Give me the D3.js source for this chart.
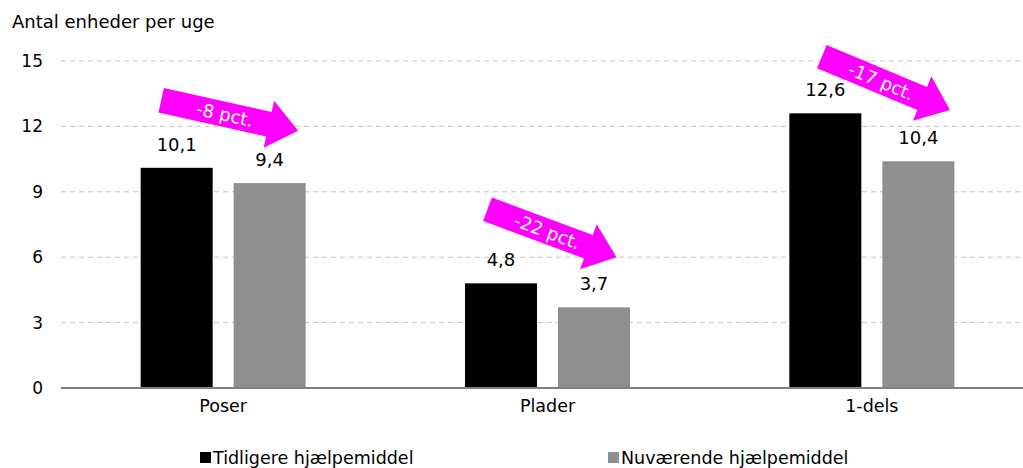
<!DOCTYPE html>
<html>
<head>
<meta charset="utf-8">
<script src="https://cdn.jsdelivr.net/npm/d3@7"></script>
<style>
  body { margin: 0; background: #fff; }
  svg { font-family: "DejaVu Sans", Verdana, sans-serif; }
</style>
</head>
<body>
<div id="chart"></div>
<script>
var categories = ["Poser", "Plader", "1-dels"];
var series_names = ["Tidligere hjælpemiddel", "Nuværende hjælpemiddel"];
var tidligere = [10.1, 4.8, 12.6];
var nuvaerende = [9.4, 3.7, 10.4];
var change_labels = ["-8 pct.", "-22 pct.", "-17 pct."];
var y_ticks = [0, 3, 6, 9, 12, 15];

var colors = ["#000000", "#8f8f8f"];

var width = 1023, height = 468;
var svg = d3.select("#chart").append("svg")
    .attr("width", width)
    .attr("height", height);

var x = d3.scaleBand().domain(categories).range([61, 1034]);
var y = d3.scaleLinear().domain([0, 15]).range([388, 61]);
var fmt = function(v) { return String(v).replace(".", ","); };

// gridlines
svg.append("g").selectAll("line")
    .data(y_ticks.slice(1))
    .enter().append("line")
    .attr("x1", 61).attr("x2", 1021)
    .attr("y1", function(d) { return y(d); })
    .attr("y2", function(d) { return y(d); })
    .attr("stroke", "#c4c4c4")
    .attr("stroke-width", 1)
    .attr("stroke-dasharray", "5,4");

// y axis labels
var yAxis = d3.axisLeft(y).tickValues(y_ticks).tickSize(0).tickPadding(0);
var gy = svg.append("g").attr("transform", "translate(43,0)").call(yAxis);
gy.select(".domain").remove();
gy.selectAll("text").attr("font-size", 17).attr("fill", "#000")
    .attr("font-family", "DejaVu Sans, Verdana, sans-serif");

svg.append("text")
    .attr("x", 12).attr("y", 28)
    .attr("font-size", 18)
    .text("Antal enheder per uge");

// bars
var bar_w = 72, offset = 46.5;
var series = [tidligere, nuvaerende];
series.forEach(function(vals, s) {
    var cx = function(i) { return x(categories[i]) + x.bandwidth() / 2 + (s === 0 ? -offset : offset); };
    svg.append("g").selectAll("rect")
        .data(vals)
        .enter().append("rect")
        .attr("x", function(d, i) { return cx(i) - bar_w / 2; })
        .attr("y", function(d) { return y(d); })
        .attr("width", bar_w)
        .attr("height", function(d) { return y(0) - y(d); })
        .attr("fill", colors[s]);
    svg.append("g").selectAll("text")
        .data(vals)
        .enter().append("text")
        .attr("x", function(d, i) { return cx(i); })
        .attr("y", function(d) { return y(d) - 17; })
        .attr("text-anchor", "middle")
        .attr("font-size", 18)
        .text(fmt);
});

// x axis
var xAxis = d3.axisBottom(x).tickSize(0).tickPadding(12);
var gx = svg.append("g").attr("transform", "translate(0," + y(0) + ")").call(xAxis);
gx.select(".domain").attr("stroke", "#808080").attr("stroke-width", 2)
    .attr("d", "M61,0H1023");
gx.selectAll("text").attr("font-size", 17.5).attr("fill", "#000")
    .attr("font-family", "DejaVu Sans, Verdana, sans-serif");

// change arrows: tail/tip anchored on the category centre and y values
var arrow_tail = [[-62, 13.2], [-60, 8.2], [-50, 15.2]];
var arrow_tip = [[75, 11.8], [69, 6.0], [78, 12.75]];
change_labels.forEach(function(lbl, i) {
    var c = x(categories[i]) + x.bandwidth() / 2;
    var x0 = c + arrow_tail[i][0], y0 = y(arrow_tail[i][1]);
    var x1 = c + arrow_tip[i][0], y1 = y(arrow_tip[i][1]);
    var len = Math.hypot(x1 - x0, y1 - y0);
    var ang = Math.atan2(y1 - y0, x1 - x0) * 180 / Math.PI;
    var sw = 12.5, hw = 24, hl = 30;
    var g = svg.append("g")
        .attr("transform", "translate(" + x0 + "," + y0 + ") rotate(" + ang + ")");
    g.append("path")
        .attr("d", "M0," + (-sw) + "L" + (len - hl) + "," + (-sw) + "L" + (len - hl) + "," + (-hw) +
            "L" + len + ",0L" + (len - hl) + "," + hw + "L" + (len - hl) + "," + sw + "L0," + sw + "Z")
        .attr("fill", "#ff00ff");
    g.append("text")
        .attr("x", (len - hl) / 2 + 10).attr("y", 6.5)
        .attr("text-anchor", "middle")
        .attr("font-size", 18)
        .attr("fill", "#fff")
        .text(lbl);
});

// legend
var legend_x = [200, 608];
series_names.forEach(function(name, s) {
    svg.append("rect")
        .attr("x", legend_x[s]).attr("y", 452)
        .attr("width", 11).attr("height", 11)
        .attr("fill", colors[s]);
    svg.append("text")
        .attr("x", legend_x[s] + 13).attr("y", 464)
        .attr("font-size", 17.5)
        .text(name);
});
</script>
</body>
</html>
